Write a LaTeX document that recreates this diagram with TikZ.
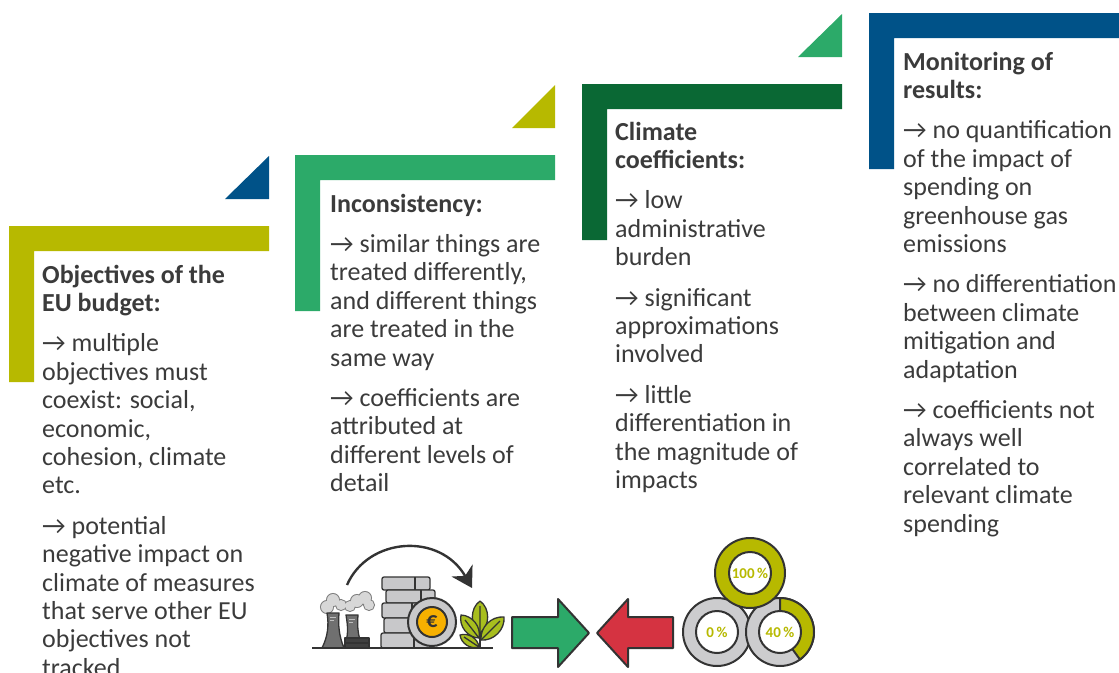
\documentclass[tikz,border=0pt]{standalone}
\usepackage{fontspec}
\setmainfont{Carlito}
\usetikzlibrary{arrows.meta}
\definecolor{budgetolive}{RGB}{183,185,0}
\definecolor{eublue}{RGB}{0,82,136}
\definecolor{leafgreen}{RGB}{44,170,105}
\definecolor{forestgreen}{RGB}{10,104,52}
\definecolor{arrowred}{RGB}{213,51,65}
\definecolor{textgray}{RGB}{59,59,59}
\definecolor{outline}{RGB}{51,51,51}
\definecolor{ringgray}{RGB}{204,204,206}
\definecolor{coingray}{RGB}{200,200,202}
\definecolor{coinorange}{RGB}{247,176,0}
\definecolor{smokegray}{RGB}{215,215,215}
\definecolor{towergray}{RGB}{112,112,112}
\definecolor{plantgreen}{RGB}{168,190,30}

\begin{document}
\begin{tikzpicture}[x=1pt, y=-1pt,
  coltext/.style={anchor=north west, inner sep=0pt, align=left, text=textgray,
    font=\fontsize{26}{28.4}\selectfont},
  outl/.style={draw=outline, line width=2pt, line join=round},
  thin outl/.style={draw=outline, line width=1.3pt, line join=round},
  pct/.style={text=budgetolive, font=\fontsize{15}{16}\selectfont\bfseries, inner sep=0pt},
  leaf/.style={fill=plantgreen, thin outl},
]
\useasboundingbox (0,0) rectangle (1119,672);

% stepped corner bars
\fill[budgetolive] (9,226) rectangle (269,251) (9,226) rectangle (34,382);
\fill[leafgreen] (295,155) rectangle (555,180) (295,155) rectangle (320,311);
\fill[forestgreen] (582,84) rectangle (842,109) (582,84) rectangle (607,240);
\fill[eublue] (869,13) rectangle (1130,38) (869,13) rectangle (894,169);

% small corner triangles
\fill[eublue] (225,199) -- (269,199) -- (269,156) -- cycle;
\fill[budgetolive] (512,128) -- (555,128) -- (555,85) -- cycle;
\fill[leafgreen] (798,57) -- (842,57) -- (842,14) -- cycle;

% column texts
\node[coltext] (objectives) at (42,263) {\strut\textbf{Objectives of the}\\
  \textbf{EU budget:}\\[12pt]
  → multiple\\ objectives must\\ coexist: social,\\ economic,\\ cohesion, climate\\ etc.\\[12pt]
  → potential\\ negative impact on\\ climate of measures\\ that serve other EU\\ objectives not\\ tracked};
\node[coltext] (inconsistency) at (330,192) {\strut\textbf{Inconsistency:}\\[12pt]
  → similar things are\\ treated differently,\\ and different things\\ are treated in the\\ same way\\[12pt]
  → coefficients are\\ attributed at\\ different levels of\\ detail};
\node[coltext] (coefficients) at (615,120) {\strut\textbf{Climate}\\
  \textbf{coefficients:}\\[12pt]
  → low\\ administrative\\ burden\\[12pt]
  → significant\\ approximations\\ involved\\[12pt]
  → little\\ differentiation in\\ the magnitude of\\ impacts};
\node[coltext] (monitoring) at (903,50) {\strut\textbf{Monitoring of}\\
  \textbf{results:}\\[12pt]
  → no quantification\\ of the impact of\\ spending on\\ greenhouse gas\\ emissions\\[12pt]
  → no differentiation\\ between climate\\ mitigation and\\ adaptation\\[12pt]
  → coefficients not\\ always well\\ correlated to\\ relevant climate\\ spending};

% factory with smoke
\draw[gray, line width=2pt] (327,607) circle[radius=6] (333,600) circle[radius=6] (341,605) circle[radius=5]
  (350,606) circle[radius=5] (357,601) circle[radius=6] (365,598) circle[radius=6] (369,605) circle[radius=5];
\fill[smokegray] (327,607) circle[radius=6] (333,600) circle[radius=6] (341,605) circle[radius=5]
  (350,606) circle[radius=5] (357,601) circle[radius=6] (365,598) circle[radius=6] (369,605) circle[radius=5];
\filldraw[fill=towergray, thin outl] (322,648) .. controls (328,636) and (329,625) .. (327,613)
  -- (339,613) .. controls (338,625) and (339,636) .. (344,648) -- cycle;
\filldraw[fill=towergray, thin outl] (343,648) .. controls (349,637) and (348,627) .. (346,615)
  -- (358,615) .. controls (357,627) and (358,637) .. (363,648) -- cycle;
\draw[lightgray, line width=0.8pt] (330,617) -- (336,617) (330,620) -- (334,620)
  (349,619) -- (355,619) (349,622) -- (353,622);
\filldraw[fill=darkgray, thin outl] (345,638) rectangle (369,648);
\draw[thin outl] (345,643) -- (369,643);

% coin stack
\filldraw[fill=coingray, thin outl, rounded corners=2pt] (382,577) rectangle (430,590);
\filldraw[fill=coingray, thin outl, rounded corners=2pt] (386,590) rectangle (435,603);
\filldraw[fill=coingray, thin outl, rounded corners=2pt] (382,603) rectangle (430,618);
\filldraw[fill=coingray, thin outl, rounded corners=2pt] (384,618) rectangle (430,633);
\filldraw[fill=coingray, thin outl, rounded corners=2pt] (381,633) rectangle (430,648);
\draw[thin outl] (415,577) -- (415,590) (421,590) -- (421,603) (412,603) -- (412,618)
  (410,618) -- (410,633) (414,633) -- (414,648);
\filldraw[fill=coingray, outl] (432,622) circle[radius=24];
\filldraw[fill=coinorange, outl] (432,622) circle[radius=15];
\node[font=\fontsize{22}{22}\selectfont\bfseries, text=outline, inner sep=0pt] (euro) at (432,622) {€};

% ground and plant
\draw[outl] (312,648) -- (493,648);
\draw[thin outl] (480,648) -- (480,606);
\filldraw[leaf] (480,633) to[bend left=55] (480,601) to[bend left=55] (480,633);
\filldraw[leaf] (479,638) to[bend left=50] (461,615) to[bend left=50] (479,638);
\filldraw[leaf] (479,647) to[bend left=50] (460,635) to[bend left=50] (479,647);
\filldraw[leaf] (481,640) to[bend right=50] (504,617) to[bend right=50] (481,640);
\draw[thin outl] (480,633) -- (480,606) (479,638) -- (465,620) (479,647) -- (464,637) (481,640) -- (500,621);

% shifting arrow above
\draw[outl, line width=2.4pt, -{Stealth[length=20pt, width=24pt, inset=6pt]}]
  (347,585) .. controls (368,537) and (440,532) .. (472,588);

% arrows meeting in the middle
\filldraw[fill=leafgreen, outl] (512,617) -- (558,617) -- (558,599) -- (589,633)
  -- (558,667) -- (558,648) -- (512,648) -- cycle;
\filldraw[fill=arrowred, outl] (673,617) -- (628,617) -- (628,599) -- (597,633)
  -- (628,667) -- (628,648) -- (673,648) -- cycle;

% coefficient rings
\filldraw[fill=ringgray, outl] (717,632) circle[radius=34];
\filldraw[fill=white, outl] (717,632) circle[radius=21];
\node[pct] (zero) at (717,632) {0\,\%};
\filldraw[fill=ringgray, outl] (780,632) circle[radius=34];
\filldraw[fill=budgetolive, outl] (780,632) -- ++(0,-34) arc[start angle=-90, end angle=54, radius=34] -- cycle;
\filldraw[fill=white, outl] (780,632) circle[radius=21];
\node[pct] (forty) at (780,632) {40\,\%};
\filldraw[fill=budgetolive, outl] (750,573) circle[radius=35];
\filldraw[fill=white, outl] (750,573) circle[radius=21];
\node[pct] (full) at (750,573) {100\,\%};
\end{tikzpicture}
\end{document}
